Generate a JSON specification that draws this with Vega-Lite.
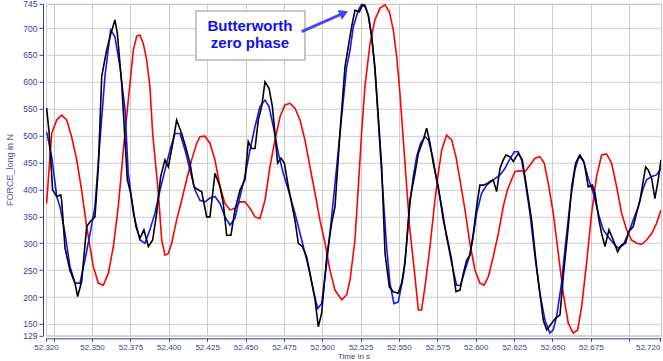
{
"$schema": "https://vega.github.io/schema/vega-lite/v6.json",
"width": 615, "height": 331.5,
"autosize": "none",
"padding": {"left": 46, "top": 3.8, "right": 2, "bottom": 25.7},
"background": "white",
"config": {"view": {"stroke": "#c4c4c4", "strokeWidth": 1}},
"datasets": {
"raw": [[52.3204,551],[52.3220,507],[52.3243,399],[52.3270,387],[52.3296,390],[52.3302,380],[52.3324,291],[52.3356,250],[52.3389,226],[52.3406,201],[52.3432,229],[52.3465,331],[52.3487,340],[52.3519,349],[52.3541,442],[52.3563,610],[52.3595,659],[52.3623,690],[52.3649,715],[52.3665,690],[52.3693,597],[52.3730,418],[52.3752,393],[52.3786,331],[52.3812,309],[52.3838,325],[52.3867,294],[52.3895,306],[52.3921,356],[52.3947,424],[52.3975,455],[52.3997,442],[52.4030,492],[52.4051,529],[52.4084,504],[52.4116,473],[52.4138,449],[52.4164,405],[52.4192,399],[52.4214,396],[52.4247,349],[52.4268,349],[52.4301,430],[52.4334,405],[52.4355,374],[52.4377,315],[52.4405,315],[52.4431,362],[52.4464,399],[52.4496,418],[52.4518,489],[52.4540,476],[52.4562,476],[52.4583,529],[52.4605,554],[52.4627,600],[52.4653,588],[52.4675,554],[52.4692,504],[52.4709,449],[52.4731,458],[52.4753,449],[52.4779,405],[52.4822,343],[52.4844,300],[52.4870,294],[52.4898,275],[52.4920,244],[52.4953,195],[52.4974,145],[52.4996,170],[52.5029,275],[52.5061,337],[52.5083,368],[52.5115,504],[52.5148,628],[52.5191,702],[52.5213,733],[52.5241,730],[52.5263,743],[52.5278,740],[52.5300,724],[52.5322,684],[52.5343,628],[52.5365,535],[52.5387,442],[52.5409,281],[52.5437,219],[52.5463,210],[52.5495,207],[52.5517,226],[52.5539,263],[52.5554,318],[52.5571,380],[52.5604,430],[52.5626,467],[52.5658,492],[52.5680,514],[52.5702,486],[52.5723,449],[52.5756,405],[52.5789,343],[52.5821,300],[52.5843,269],[52.5871,210],[52.5897,213],[52.5919,244],[52.5941,269],[52.5962,278],[52.5984,318],[52.6006,368],[52.6027,408],[52.6049,408],[52.6075,411],[52.6093,415],[52.6114,418],[52.6136,396],[52.6158,439],[52.6179,455],[52.6197,464],[52.6223,461],[52.6245,452],[52.6277,467],[52.6303,455],[52.6331,405],[52.6364,343],[52.6396,257],[52.6418,207],[52.6440,157],[52.6462,139],[52.6494,151],[52.6520,161],[52.6549,167],[52.6570,238],[52.6603,331],[52.6625,405],[52.6651,449],[52.6679,464],[52.6707,449],[52.6733,405],[52.6759,408],[52.6777,393],[52.6803,343],[52.6820,318],[52.6842,294],[52.6868,325],[52.6896,306],[52.6924,284],[52.6950,297],[52.6976,300],[52.6998,322],[52.7026,331],[52.7048,356],[52.7070,380],[52.7091,415],[52.7107,442],[52.7124,436],[52.7146,421],[52.7167,383],[52.7189,418],[52.7207,455]],
"bw": [[52.3204,507],[52.3237,461],[52.3270,387],[52.3291,368],[52.3324,318],[52.3356,257],[52.3389,226],[52.3421,226],[52.3454,269],[52.3487,318],[52.3519,368],[52.3552,492],[52.3584,610],[52.3621,696],[52.3649,684],[52.3682,628],[52.3715,548],[52.3736,430],[52.3769,356],[52.3812,306],[52.3845,300],[52.3877,325],[52.3910,356],[52.3943,399],[52.3975,436],[52.4008,473],[52.4040,504],[52.4073,504],[52.4106,473],[52.4138,436],[52.4171,399],[52.4203,380],[52.4236,377],[52.4268,384],[52.4301,387],[52.4334,374],[52.4366,349],[52.4399,334],[52.4431,346],[52.4464,387],[52.4496,424],[52.4529,473],[52.4562,517],[52.4594,554],[52.4627,566],[52.4653,554],[52.4681,517],[52.4714,467],[52.4746,430],[52.4779,399],[52.4822,356],[52.4866,306],[52.4909,257],[52.4942,213],[52.4970,179],[52.4996,188],[52.5029,263],[52.5061,349],[52.5094,442],[52.5126,535],[52.5159,628],[52.5181,659],[52.5202,702],[52.5235,733],[52.5256,744],[52.5278,743],[52.5300,724],[52.5322,684],[52.5343,622],[52.5365,529],[52.5387,430],[52.5419,294],[52.5441,226],[52.5467,188],[52.5495,191],[52.5528,238],[52.5550,300],[52.5571,374],[52.5593,424],[52.5615,461],[52.5641,486],[52.5669,498],[52.5691,492],[52.5719,461],[52.5745,418],[52.5778,368],[52.5810,312],[52.5843,263],[52.5875,222],[52.5901,222],[52.5930,250],[52.5958,275],[52.5980,306],[52.6006,356],[52.6038,393],[52.6071,408],[52.6114,418],[52.6158,427],[52.6190,439],[52.6219,455],[52.6251,470],[52.6277,470],[52.6299,455],[52.6321,418],[52.6353,356],[52.6386,275],[52.6418,207],[52.6451,157],[52.6483,133],[52.6505,139],[52.6527,164],[52.6559,226],[52.6581,288],[52.6614,374],[52.6646,436],[52.6672,461],[52.6700,455],[52.6733,421],[52.6766,393],[52.6798,356],[52.6831,325],[52.6863,312],[52.6896,300],[52.6929,291],[52.6961,297],[52.6994,318],[52.7026,343],[52.7059,368],[52.7091,402],[52.7113,418],[52.7146,424],[52.7178,427],[52.7207,439]],
"filt": [[52.3204,374],[52.3237,504],[52.3270,529],[52.3302,538],[52.3335,529],[52.3367,498],[52.3400,455],[52.3432,399],[52.3465,331],[52.3508,257],[52.3541,226],[52.3574,222],[52.3606,244],[52.3639,294],[52.3671,368],[52.3704,473],[52.3736,566],[52.3769,659],[52.3791,685],[52.3812,687],[52.3834,671],[52.3856,641],[52.3877,591],[52.3895,504],[52.3932,393],[52.3954,306],[52.3975,278],[52.3997,281],[52.4019,300],[52.4051,343],[52.4084,380],[52.4116,418],[52.4149,455],[52.4182,486],[52.4203,498],[52.4236,499],[52.4268,486],[52.4301,455],[52.4334,405],[52.4366,374],[52.4399,362],[52.4431,365],[52.4464,377],[52.4496,377],[52.4529,365],[52.4562,349],[52.4594,346],[52.4627,380],[52.4659,442],[52.4692,492],[52.4725,535],[52.4757,557],[52.4790,560],[52.4822,551],[52.4855,529],[52.4887,492],[52.4920,442],[52.4953,393],[52.4985,343],[52.5018,300],[52.5050,250],[52.5083,213],[52.5126,195],[52.5159,204],[52.5181,232],[52.5213,306],[52.5235,405],[52.5256,504],[52.5278,591],[52.5311,671],[52.5343,715],[52.5376,737],[52.5409,743],[52.5437,730],[52.5463,696],[52.5485,647],[52.5506,579],[52.5528,492],[52.5550,405],[52.5571,325],[52.5604,238],[52.5626,176],[52.5647,176],[52.5669,219],[52.5702,294],[52.5734,380],[52.5756,430],[52.5778,473],[52.5810,501],[52.5843,492],[52.5871,461],[52.5897,418],[52.5930,362],[52.5962,300],[52.5995,250],[52.6027,226],[52.6054,222],[52.6082,238],[52.6114,275],[52.6147,318],[52.6179,368],[52.6206,399],[52.6223,411],[52.6255,433],[52.6288,435],[52.6321,433],[52.6353,445],[52.6386,458],[52.6418,461],[52.6446,449],[52.6473,411],[52.6505,356],[52.6538,281],[52.6570,207],[52.6603,151],[52.6635,133],[52.6664,139],[52.6690,182],[52.6722,263],[52.6755,356],[52.6787,424],[52.6820,464],[52.6852,466],[52.6885,449],[52.6918,405],[52.6950,356],[52.6983,325],[52.7015,306],[52.7048,300],[52.7081,298],[52.7113,306],[52.7146,318],[52.7178,337],[52.7207,362]],
"box": [{"t": 52.4177, "t2": 52.4887, "f": 731.6, "f2": 640.6}],
"label": [{"t": 52.4529, "f": 693.9, "txt": "Butterworth"}, {"t": 52.4529, "f": 662.3, "txt": "zero phase"}],
"arrow": [{"t": 52.4866, "f": 693.2, "t2": 52.5141, "f2": 727.9}],
"head": [{"t": 52.5141, "f": 727.9}]
},
"encoding": {
"x": {"field": "t", "type": "quantitative", "title": "Time in s",
"scale": {"domain": [52.32, 52.7207], "nice": false, "zero": false},
"axis": {"values": [52.32, 52.325, 52.35, 52.375, 52.4, 52.425, 52.45, 52.475, 52.5, 52.525, 52.55, 52.575, 52.6, 52.625, 52.65, 52.675, 52.7, 52.72],
"labelExpr": "(abs(datum.value-52.7)<0.0001 || abs(datum.value-52.325)<0.0001) ? '' : format(datum.value, '.3f')",
"labelAlign": {"condition": {"test": "datum.value > 52.71", "value": "right"}, "value": "center"},
"gridOpacity": {"condition": {"test": "datum.value > 52.71", "value": 0}, "value": 1},
"offset": 3, "tickSize": 3, "labelPadding": 2, "labelFont": "Liberation Sans", "labelFontSize": 8, "labelColor": "#40408a",
"labelOverlap": false, "labelFlush": false, "labelBound": false,
"domainColor": "#3a3a9a", "tickColor": "#3a3a9a", "gridColor": "#cccccc",
"titleFont": "Liberation Sans", "titleFontSize": 8, "titleFontWeight": "normal", "titleColor": "#40408a", "titlePadding": 1}},
"y": {"field": "f", "type": "quantitative", "title": "FORCE_long in N",
"scale": {"domain": [129, 745], "nice": false, "zero": false},
"axis": {"values": [129, 150, 200, 250, 300, 350, 400, 450, 500, 550, 600, 650, 700, 745],
"offset": 3, "tickSize": 4, "labelPadding": 2, "labelFont": "Liberation Sans", "labelFontSize": 8.5, "labelColor": "#40408a",
"labelOverlap": false, "labelFlush": false, "labelBound": false,
"domainColor": "#3a3a9a", "tickColor": "#3a3a9a", "gridColor": "#cccccc",
"titleFont": "Liberation Sans", "titleFontSize": 9, "titleFontWeight": "normal", "titleColor": "#5050a8", "titlePadding": 8}}
},
"layer": [
{
"data": {"name": "filt"},
"transform": [{"calculate": "datum[0]", "as": "t"}, {"calculate": "datum[1]", "as": "f"}],
"mark": {"type": "line", "color": "#ff0000", "strokeWidth": 1.6, "clip": true}
},
{
"data": {"name": "bw"},
"transform": [{"calculate": "datum[0]", "as": "t"}, {"calculate": "datum[1]", "as": "f"}],
"mark": {"type": "line", "color": "#1414ff", "strokeWidth": 1.6, "clip": true}
},
{
"data": {"name": "raw"},
"transform": [{"calculate": "datum[0]", "as": "t"}, {"calculate": "datum[1]", "as": "f"}],
"mark": {"type": "line", "color": "#000000", "strokeWidth": 1.6, "clip": true}
},
{
"data": {"name": "box"},
"mark": {"type": "rect", "fill": "#ffffff", "stroke": "#b4b4b4", "strokeWidth": 1.5},
"encoding": {"x2": {"field": "t2"}, "y2": {"field": "f2"}}
},
{
"data": {"name": "label"},
"mark": {"type": "text", "font": "Liberation Sans", "fontWeight": "bold", "fontSize": 15, "color": "#1010f0", "align": "center", "baseline": "alphabetic"},
"encoding": {"text": {"field": "txt"}}
},
{
"data": {"name": "arrow"},
"mark": {"type": "rule", "color": "#4646f5", "strokeWidth": 3},
"encoding": {"x2": {"field": "t2"}, "y2": {"field": "f2"}}
},
{
"data": {"name": "head"},
"mark": {"type": "point", "shape": "triangle-up", "filled": true, "color": "#4646f5", "size": 110, "angle": 66, "opacity": 1}
}
]
}
